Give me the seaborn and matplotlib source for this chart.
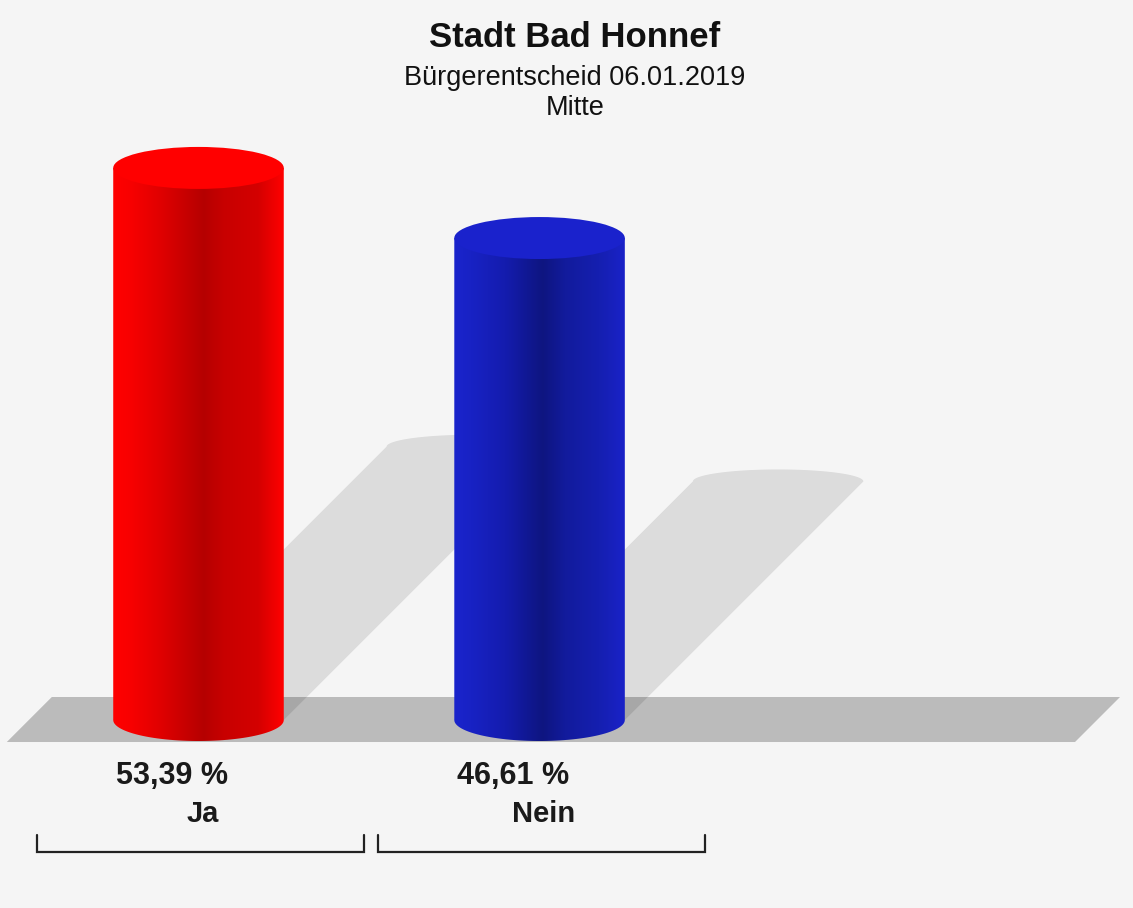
import numpy as np
import pandas as pd
import matplotlib
matplotlib.use("Agg")
import matplotlib.pyplot as plt
import seaborn as sns
from matplotlib.patches import Ellipse, Polygon, PathPatch
from matplotlib.path import Path
from matplotlib.colors import LinearSegmentedColormap

# Data
categories = ["Ja", "Nein"]
values = [53.39, 46.61]
value_labels = ["53,39 %", "46,61 %"]
title = "Stadt Bad Honnef"
subtitle = "Bürgerentscheid 06.01.2019"
district = "Mitte"

# Colours: cap colour and body shading stops (left -> right)
top_colors = ["#ff0000", "#1a22cc"]
body_stops = [
    [(0.0, "#ff0000"), (0.1, "#f80000"), (0.3, "#dd0000"), (0.53, "#b50000"),
     (0.65, "#c80000"), (0.85, "#d40000"), (1.0, "#ff0000")],
    [(0.0, "#1a24cc"), (0.1, "#1822c4"), (0.3, "#141cae"), (0.52, "#0e1580"),
     (0.65, "#121b9c"), (0.85, "#151fb0"), (1.0, "#1a22c8")],
]

bg = "#f5f5f5"
sns.set_style("white")
plt.rcParams["font.family"] = ["Liberation Sans", "DejaVu Sans"]

fig = plt.figure(figsize=(11.33, 9.08), dpi=100, facecolor=bg)
ax = fig.add_axes([0, 0, 1, 1])
ax.set_facecolor(bg)

df = pd.DataFrame({"Antwort": categories, "Prozent": values})
sns.barplot(data=df, x="Antwort", y="Prozent", hue="Antwort", palette=top_colors,
            width=0.5, legend=False, ax=ax, zorder=3)

# the bar rectangles seaborn drew, left to right
bars = sorted([b for c in ax.containers for b in c], key=lambda p: p.get_x())

xmin, xmax = -0.582, 2.740
ymin, ymax = -18.18, 69.63
ax.set_xlim(xmin, xmax)
ax.set_ylim(ymin, ymax)
ax.axis("off")

# pixel -> data scale
kx = 1133 / (xmax - xmin)
ky = 908 / (ymax - ymin)
ell_b = 21 / ky        # semi-height of caps
shadow_b = 12 / ky     # semi-height of shadow cap
shear = ky / kx        # 45 degree skew in screen space

# floor
fl_lo, fl_hi = -22 / ky, 23 / ky
fl_x0, fl_x1 = -0.562, 2.570
fs = (fl_hi - fl_lo) * shear
ax.add_patch(Polygon([(fl_x0, fl_lo), (fl_x1, fl_lo), (fl_x1 + fs, fl_hi), (fl_x0 + fs, fl_hi)],
                     closed=True, facecolor="#bbbbbb", edgecolor="none", zorder=1))

for i, p in enumerate(bars):
    x0 = p.get_x()
    w = p.get_width()
    x1 = x0 + w
    xc = x0 + w / 2
    h = p.get_height()

    # shadow
    sh = 0.495 * h
    dx = sh * shear
    t = np.linspace(0, np.pi, 40)
    arc = np.column_stack([xc + dx + w / 2 * np.cos(t), sh + shadow_b * np.sin(t)])
    pts = np.vstack([[(x0, 0), (x1, 0)], arc])
    ax.add_patch(Polygon(pts, closed=True, facecolor="black", alpha=0.1,
                         edgecolor="none", zorder=2))

    # cylinder body with shading
    t = np.linspace(np.pi, 2 * np.pi, 60)
    bottom = np.column_stack([xc + w / 2 * np.cos(t), ell_b * np.sin(t)])
    verts = np.vstack([[(x0, h)], bottom, [(x1, h), (x0, h)]])
    body = PathPatch(Path(verts), facecolor="none", edgecolor="none", transform=ax.transData)
    ax.add_patch(body)
    cmap = LinearSegmentedColormap.from_list("body%d" % i, body_stops[i])
    grad = np.linspace(0, 1, 256)[None, :]
    im = ax.imshow(grad, cmap=cmap, extent=(x0, x1, -ell_b, h), aspect="auto",
                   interpolation="bilinear", zorder=4)
    im.set_clip_path(body)
    p.set_visible(False)

    # cap
    ax.add_patch(Ellipse((xc, h), w, 2 * ell_b, facecolor=top_colors[i],
                         edgecolor="none", zorder=5))

    # labels
    ax.text(xc - 26 / kx, -64 / ky, value_labels[i], ha="center", va="baseline",
            fontsize=22, fontweight="bold", color="#1a1a1a", zorder=6)
    ax.text(xc + 4 / kx, -102 / ky, categories[i], ha="center", va="baseline",
            fontsize=21, fontweight="bold", color="#1a1a1a", zorder=6)

    # bracket under each category
    bl, br = xc - 0.474, xc + 0.485
    yb, yt = -132 / ky, -115 / ky
    ax.plot([bl, bl, br, br], [yt, yb, yb, yt], color="#222222", lw=1.6,
            solid_joinstyle="miter", zorder=6)

ax.set_xlim(xmin, xmax)
ax.set_ylim(ymin, ymax)

fig.text(0.5075, 1 - 47 / 908, title, ha="center", va="baseline",
         fontsize=25, fontweight="bold", color="#111111")
fig.text(0.5075, 1 - 85 / 908, subtitle, ha="center", va="baseline",
         fontsize=19.5, color="#111111")
fig.text(0.5075, 1 - 115 / 908, district, ha="center", va="baseline",
         fontsize=19.5, color="#111111")

fig.savefig("out.png", dpi=100, facecolor=bg)
